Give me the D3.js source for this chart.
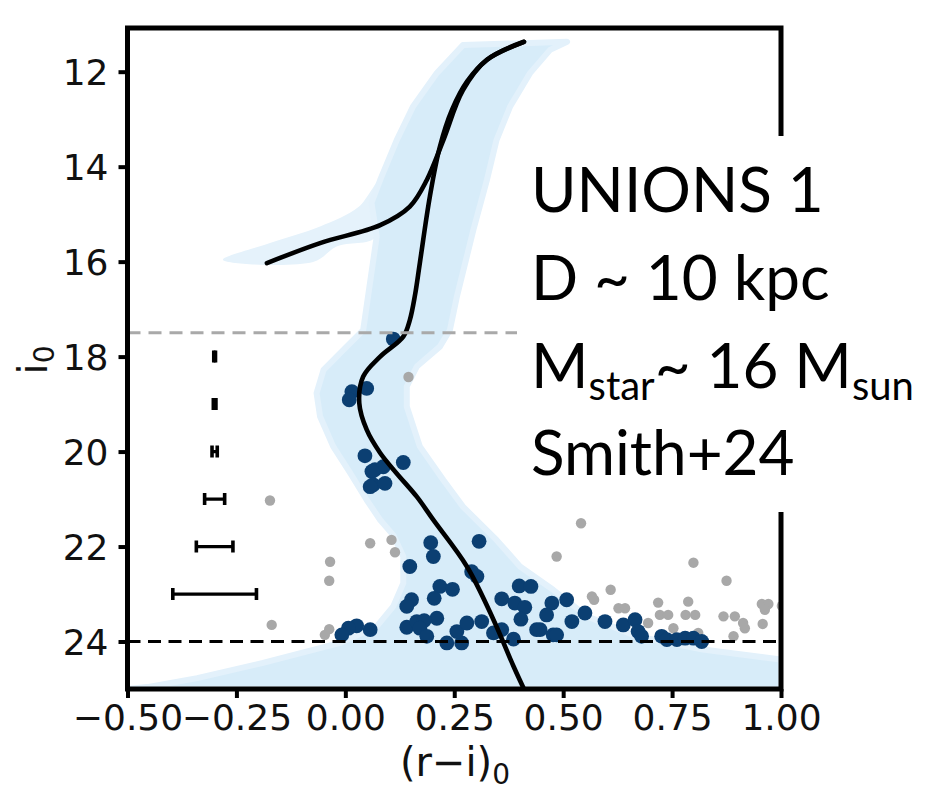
<!DOCTYPE html>
<html>
<head>
<meta charset="utf-8">
<script src="https://cdn.jsdelivr.net/npm/d3@7"></script>
<style>
  html, body { margin: 0; padding: 0; background: #fff; }
  svg { display: block; }
</style>
</head>
<body>
<svg id="cmd" width="938" height="795"></svg>
<script>
// ---- colour–magnitude diagram data: (r-i)_0 colour vs i_0 magnitude ----
const xTicks = [-0.50, -0.25, 0.00, 0.25, 0.50, 0.75, 1.00];
const yTicks = [12, 14, 16, 18, 20, 22, 24];

// isochrone, main sequence -> turn-off -> subgiant -> giant branch
const isoColour = [0.41, 0.386, 0.34, 0.279, 0.202, 0.164, 0.118, 0.08, 0.049, 0.032, 0.041, 0.08, 0.133, 0.148, 0.160, 0.171, 0.194, 0.217, 0.245, 0.28, 0.325, 0.41];
const isoMag    = [25.0, 24.52, 23.54, 22.42, 21.44, 20.95, 20.46, 20.03, 19.54, 18.98, 18.42, 18.0, 17.58, 17.23, 16.7, 16.03, 14.63, 13.58, 12.8, 12.2, 11.75, 11.37];

// horizontal-branch / AGB track joining the giant branch
const hbColour = [-0.18, -0.058, 0.08, 0.148, 0.187, 0.225, 0.27, 0.325, 0.41];
const hbMag    = [16.03, 15.61, 15.23, 14.84, 14.28, 13.44, 12.39, 11.75, 11.37];

// spread of the isochrone selection region
const bandRightColour = [0.509, 0.470, 0.424, 0.378, 0.347, 0.325, 0.294, 0.256, 0.240, 0.217, 0.164, 0.141, 0.141, 0.171, 0.225, 0.270, 0.347, 0.401, 0.477, 0.555, 0.669, 0.821, 1.0, 1.0];
const bandRightMag    = [11.37, 11.54, 12.03, 12.74, 13.44, 14.28, 15.33, 16.74, 17.44, 17.79, 18.21, 18.63, 19.05, 19.89, 20.60, 21.16, 21.86, 22.42, 22.91, 23.47, 23.89, 24.17, 24.38, 25.0];
const bandLeftColour  = [0.270, 0.210, 0.155, 0.118, 0.080, 0.060, 0.072, 0.041, 0.003, -0.050, -0.066, -0.058, -0.028, 0.011, 0.049, 0.080, 0.110, 0.133, 0.133, 0.110, 0.072, -0.012, -0.189, -0.340, -0.455, -0.5];
const bandLeftMag     = [11.44, 12.03, 12.74, 13.44, 14.28, 14.76, 15.47, 17.44, 17.79, 18.28, 18.77, 19.26, 19.89, 20.45, 21.02, 21.44, 21.76, 22.21, 22.77, 23.26, 23.68, 24.03, 24.45, 24.77, 24.96, 25.0];
const hbBandColour = [0.080, 0.030, -0.058, -0.173, -0.281, -0.074, -0.020, 0.072];
const hbBandMag    = [14.28, 14.85, 15.26, 15.61, 15.96, 16.01, 15.68, 15.47];

// member candidates
const memberColour = [0.110, 0.015, 0.049, 0.009, 0.045, 0.133, 0.068, 0.087, 0.061, 0.064, 0.091, 0.057,
  0.196, 0.202, 0.307, 0.148, 0.290, 0.302, 0.217, 0.246, 0.204, 0.152, 0.141, 0.359, 0.399, 0.426, 0.389, 0.412, 0.403,
  0.210, 0.141, 0.164, 0.181, 0.171, 0.187, 0.057, 0.026, 0.007, -0.008, 0.233, 0.267, 0.256, 0.279, 0.313, 0.340, 0.359, 0.386, 0.439,
  0.474, 0.508, 0.462, 0.447, 0.477, 0.520, 0.550, 0.596, 0.638, 0.665, 0.672, 0.680, 0.726, 0.738, 0.761, 0.780, 0.799, 0.818, 0.485];
const memberMag = [17.63, 18.74, 18.67, 18.91, 20.09, 20.23, 20.38, 20.32, 20.42, 20.70, 20.67, 20.74,
  21.92, 22.21, 21.89, 22.42, 22.53, 22.63, 22.84, 22.90, 23.09, 23.12, 23.26, 23.10, 22.83, 22.84, 23.19, 23.28, 23.53,
  23.51, 23.70, 23.58, 23.56, 23.72, 23.89, 23.75, 23.67, 23.72, 23.86, 24.03, 24.03, 23.79, 23.61, 23.58, 23.82, 23.75, 23.95, 23.75,
  23.19, 23.12, 23.44, 23.75, 23.86, 23.58, 23.40, 23.58, 23.65, 23.54, 23.79, 23.89, 23.89, 23.96, 23.96, 23.93, 23.93, 24.00, 23.86];

// field stars outside the selection
const fieldColour = [0.057, 0.106, 0.114, -0.035, -0.037, -0.037, -0.047, -0.173, -0.169, 0.145, 0.541, 0.485, 0.799, 0.875,
  0.609, 0.566, 0.571, 0.627, 0.642, 0.695, 0.718, 0.722, 0.741, 0.753, 0.787, 0.781, 0.803, 0.810, 0.868, 0.894, 0.913, 0.917,
  0.891, 0.956, 0.971, 0.963, 0.958, 1.002];
const fieldMag = [21.93, 21.86, 22.12, 22.32, 22.72, 23.74, 23.86, 21.03, 23.65, 18.43, 21.51, 22.21, 22.34, 22.72,
  22.91, 23.05, 23.12, 23.30, 23.30, 23.61, 23.18, 23.44, 23.44, 23.72, 23.16, 23.44, 23.44, 23.82, 23.47, 23.47, 23.61, 23.72,
  23.89, 23.21, 23.21, 23.33, 23.63, 23.25];

// photometric uncertainties per magnitude bin
const errMag = [18, 19, 20, 21, 22, 23];
const errSize = [0.002, 0.003, 0.006, 0.023, 0.042, 0.096];
const errAt = -0.30;

const brightLimit = 17.5;
const faintLimit = 24.0;

const infoLines = ["UNIONS 1", "D ~ 10 kpc", null, "Smith+24"];

// ---- layout ----
const svg = d3.select("#cmd");
const L = 127.5, R = 781, T = 28, B = 689;
const x = d3.scaleLinear().domain([-0.5, 1.0]).range([L, R]);
const y = d3.scaleLinear().domain([11.08, 25]).range([T, B]);

svg.append("defs").append("clipPath").attr("id", "plotclip")
  .append("rect").attr("x", L).attr("y", T).attr("width", R - L).attr("height", B - T);

const plot = svg.append("g").attr("clip-path", "url(#plotclip)");

// selection band
const band = bandLeftColour.map((c, i) => [c, bandLeftMag[i]])
  .concat(bandRightColour.map((c, i) => [c, bandRightMag[i]]).reverse());
const area = d3.line().x(d => x(d[0])).y(d => y(d[1])).curve(d3.curveCatmullRomClosed.alpha(0.5));
const poly = d3.line().x(d => x(d[0])).y(d => y(d[1])).curve(d3.curveLinearClosed);

plot.append("path")
  .attr("d", area(hbBandColour.map((c, i) => [c, hbBandMag[i]])))
  .attr("fill", "#e5f2fb");
plot.append("path")
  .attr("d", poly(band))
  .attr("fill", "#d7ecf9")
  .attr("stroke", "#e3f1fb").attr("stroke-width", 6).attr("stroke-linejoin", "round");

// stars
plot.append("g").selectAll("circle").data(fieldColour.map((c, i) => [c, fieldMag[i]]))
  .join("circle")
  .attr("cx", d => x(d[0])).attr("cy", d => y(d[1])).attr("r", 5.2)
  .attr("fill", "#a8a8a8");
plot.append("g").selectAll("circle").data(memberColour.map((c, i) => [c, memberMag[i]]))
  .join("circle")
  .attr("cx", d => x(d[0])).attr("cy", d => y(d[1])).attr("r", 7.4)
  .attr("fill", "#0b3f72");

// isochrone tracks
const curve = d3.line().x(d => x(d[0])).y(d => y(d[1])).curve(d3.curveCatmullRom.alpha(0.5));
plot.append("path")
  .attr("d", curve(isoColour.map((c, i) => [c, isoMag[i]])))
  .attr("fill", "none").attr("stroke", "#000").attr("stroke-width", 4.6).attr("stroke-linecap", "round");
plot.append("path")
  .attr("d", curve(hbColour.map((c, i) => [c, hbMag[i]])))
  .attr("fill", "none").attr("stroke", "#000").attr("stroke-width", 4.6).attr("stroke-linecap", "round");

// magnitude limits
plot.append("line")
  .attr("x1", x(-0.5)).attr("x2", x(1.0)).attr("y1", y(brightLimit)).attr("y2", y(brightLimit))
  .attr("stroke", "#a9a9a9").attr("stroke-width", 3).attr("stroke-dasharray", "13,8");
plot.append("line")
  .attr("x1", x(-0.5)).attr("x2", x(1.0)).attr("y1", y(faintLimit)).attr("y2", y(faintLimit))
  .attr("stroke", "#000").attr("stroke-width", 3).attr("stroke-dasharray", "13,7.5");

// error bars
const eb = plot.append("g").attr("stroke", "#000");
errMag.forEach((m, i) => {
  const x0 = x(errAt - errSize[i]), x1 = x(errAt + errSize[i]), yy = y(m);
  eb.append("line").attr("x1", x0).attr("x2", x1).attr("y1", yy).attr("y2", yy).attr("stroke-width", 3.2);
  [x0, x1].forEach(xc => eb.append("line")
    .attr("x1", xc).attr("x2", xc).attr("y1", yy - 6).attr("y2", yy + 6).attr("stroke-width", 3.6));
});

// axes
const font = "'DejaVu Sans', sans-serif";
const xAxis = svg.append("g").attr("transform", `translate(0,${B})`)
  .call(d3.axisBottom(x).tickValues(xTicks).tickSize(9).tickPadding(6)
    .tickFormat(d => d3.format(".2f")(d).replace("-", "\u2212")));
const yAxis = svg.append("g").attr("transform", `translate(${L},0)`)
  .call(d3.axisLeft(y).tickValues(yTicks).tickSize(9).tickPadding(10).tickFormat(d3.format("d")));
[xAxis, yAxis].forEach(g => {
  g.select(".domain").remove();
  g.selectAll(".tick line").attr("stroke", "#000").attr("stroke-width", 4);
  g.selectAll(".tick text").attr("font-family", font).attr("font-size", 36).attr("fill", "#111");
});
yAxis.selectAll(".tick text").attr("dy", "0.36em");

// frame
svg.append("rect").attr("x", L).attr("y", T).attr("width", R - L).attr("height", B - T)
  .attr("fill", "none").attr("stroke", "#000").attr("stroke-width", 5);

// axis titles
const xl = svg.append("text").attr("x", 455).attr("y", 776).attr("text-anchor", "middle")
  .attr("font-family", font).attr("font-size", 40).attr("fill", "#111");
xl.append("tspan").text("(r\u2212i)");
xl.append("tspan").attr("font-size", 28).attr("dy", 8).text("0");

const yl = svg.append("text").attr("transform", "translate(47,360) rotate(-90)").attr("text-anchor", "middle")
  .attr("font-family", font).attr("font-size", 40).attr("fill", "#111");
yl.append("tspan").text("i");
yl.append("tspan").attr("font-size", 28).attr("dy", 7).text("0");

// annotation panel
svg.append("rect").attr("x", 517).attr("y", 136).attr("width", 421).attr("height", 376).attr("fill", "#fff");
const info = svg.append("g").attr("font-family", "Lato, 'Open Sans', sans-serif").attr("font-weight", 400)
  .attr("font-size", 62).attr("fill", "#000");
const baselines = [212, 300, 388, 475];
infoLines.forEach((t, i) => {
  if (t === null) return;
  info.append("text").attr("x", 531).attr("y", baselines[i]).text(t);
});
const mLine = info.append("text").attr("x", 531).attr("y", baselines[2]);
mLine.append("tspan").text("M");
mLine.append("tspan").attr("font-size", 40).attr("dy", 12).text("star");
mLine.append("tspan").attr("dy", -12).text("~ 16 M");
mLine.append("tspan").attr("font-size", 40).attr("dy", 12).text("sun");
</script>
</body>
</html>
